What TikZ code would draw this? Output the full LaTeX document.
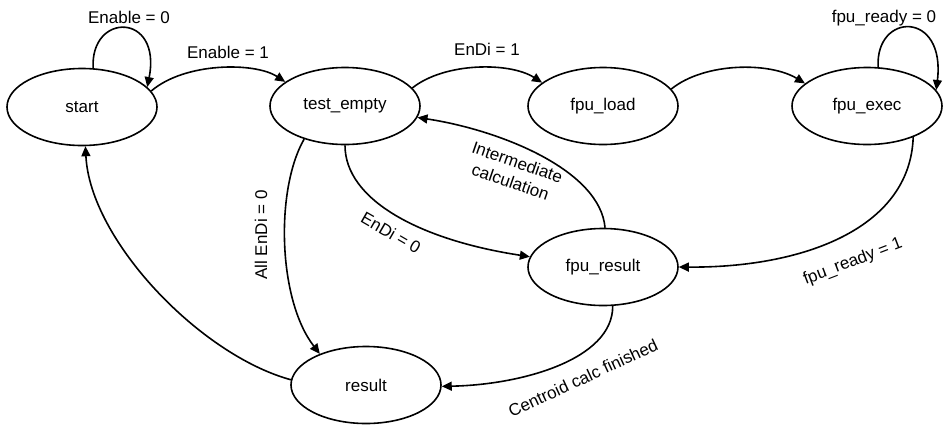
\documentclass[tikz,border=0pt]{standalone}
\usepackage{fontspec}
\setmainfont{Liberation Sans}
\usetikzlibrary{shapes.geometric,arrows.meta}
\begin{document}
\begin{tikzpicture}[x=1pt,y=-1pt,
  state/.style={draw,ellipse,line width=1.6pt,inner sep=0pt,minimum width=150pt,minimum height=77pt,font=\fontsize{17}{20}\selectfont},
  edge/.style={line width=1.6pt,-{Triangle[length=10pt,width=9pt]}},
  lbl/.style={inner sep=0pt,align=center,font=\fontsize{17}{21}\selectfont}]
\useasboundingbox (0,0) rectangle (946,424);
\node[state] (start) at (82,107) {start};
\node[state] (test) at (345,106) {test\_empty};
\node[state] (load) at (603,106) {fpu\_load};
\node[state] (exec) at (867,106) {fpu\_exec};
\node[state] (res) at (603,267) {fpu\_result};
\node[state] (result) at (366,385) {result};

% self loop start
\draw[edge] (start.74) .. controls (90,12) and (162,12) .. (start.17);
\node[lbl] (l1) at (129,17) {Enable = 0};
% start -> test
\draw[edge] (start.13) .. controls (185,62) and (255,62) .. (test.158);
\node[lbl] (l2) at (228,52) {Enable = 1};
% test -> load
\draw[edge] (test.15) .. controls (445,62) and (510,62) .. (load.159);
\node[lbl] (l3) at (487,49) {EnDi = 1};
% load -> exec
\draw[edge] (load.14) .. controls (705,62) and (770,62) .. (exec.160);
% self loop exec
\draw[edge] (exec.74) .. controls (875,12) and (946,10) .. (exec.13);
\node[lbl] (l4) at (884,18) {fpu\_ready = 0};
% exec -> res
\draw[edge] (exec.-34) .. controls (910,230) and (800,268) .. (res.0);
\node[lbl,rotate=21] (l5) at (853,262) {fpu\_ready = 1};
% res -> test
\draw[edge] (res.87) .. controls (600,170) and (500,130) .. (test.-9);
\node[lbl,rotate=-19] (l6) at (514,172) {Intermediate\\calculation};
% test -> res
\draw[edge] (test.-90) .. controls (345,200) and (420,240) .. (res.172);
\node[lbl,rotate=-30] (l7) at (391,233) {EnDi = 0};
% test -> result
\draw[edge] (test.219) .. controls (275,190) and (278,300) .. (result.146);
\node[lbl,rotate=90] (l8) at (261,235) {All EnDi = 0};
% result -> start
\draw[edge] (result.176) .. controls (200,355) and (90,240) .. (start.-85);
% res -> result
\draw[edge] (res.-76) .. controls (613,360) and (520,385) .. (result.-1);
\node[lbl,rotate=25] (l9) at (583,378) {Centroid calc finished};
\end{tikzpicture}
\end{document}
